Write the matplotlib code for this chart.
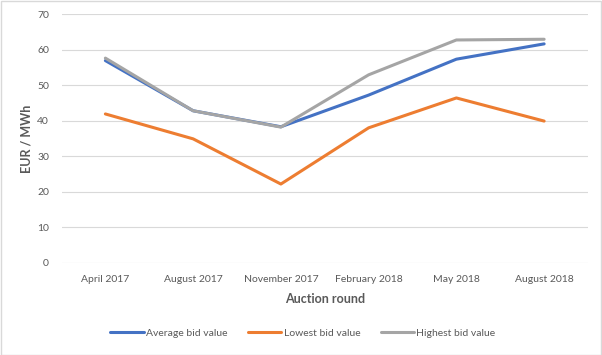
import matplotlib
matplotlib.use("Agg")
import matplotlib.pyplot as plt
from matplotlib.patches import Rectangle

plt.rcParams['font.family'] = ['Lato', 'DejaVu Sans']

categories = ["April 2017", "August 2017", "November 2017", "February 2018", "May 2018", "August 2018"]
average_bid = [56.9, 42.8, 38.3, 47.2, 57.3, 61.6]
lowest_bid = [41.9, 34.9, 22.2, 38.0, 46.4, 39.9]
highest_bid = [57.6, 42.8, 38.2, 52.9, 62.7, 62.9]
y_ticks = [0, 10, 20, 30, 40, 50, 60, 70]

W, H = 602, 355
fig = plt.figure(figsize=(W / 100, H / 100), dpi=100)
ax = fig.add_axes([61.5 / W, 1 - 263 / H, (588 - 61.5) / W, (263 - 14) / H])

x = list(range(len(categories)))
text_col = "#595959"
ax.plot(x, average_bid, color="#4472C4", lw=2.2, solid_capstyle="round", label="Average bid value", zorder=3)
ax.plot(x, lowest_bid, color="#ED7D31", lw=2.2, solid_capstyle="round", label="Lowest bid value", zorder=3)
ax.plot(x, highest_bid, color="#A5A5A5", lw=2.2, solid_capstyle="round", label="Highest bid value", zorder=3)

ax.set_xlim(-0.5, len(categories) - 0.5)
ax.set_ylim(0, 70)
ax.set_yticks(y_ticks)
ax.set_xticks(x)
ax.set_xticklabels(categories)
ax.grid(axis="y", color="#D9D9D9", lw=0.8)
ax.set_axisbelow(True)
for s in ax.spines.values():
    s.set_visible(False)
ax.tick_params(length=0, colors=text_col, labelsize=7.5)
ax.tick_params(axis="x", pad=9)
ax.tick_params(axis="y", pad=9)
ax.set_xlabel("Auction round", fontsize=9, fontweight="bold", color=text_col, labelpad=6)
ax.set_ylabel("EUR / MWh", fontsize=9, fontweight="bold", color=text_col, labelpad=3)

leg = fig.legend(loc="center", bbox_to_anchor=(303 / W, 1 - 333 / H), ncol=3, frameon=False,
                 fontsize=7.5, handlelength=3.2, handletextpad=0.2, columnspacing=2.0)
for t in leg.get_texts():
    t.set_color(text_col)

fig.patches.append(Rectangle((0.5 / W, 0.5 / H), 1 - 1.5 / W, 1 - 1.5 / H, transform=fig.transFigure,
                             fill=False, edgecolor="#D9D9D9", lw=1))
fig.savefig("out.png", dpi=100, facecolor="white")
